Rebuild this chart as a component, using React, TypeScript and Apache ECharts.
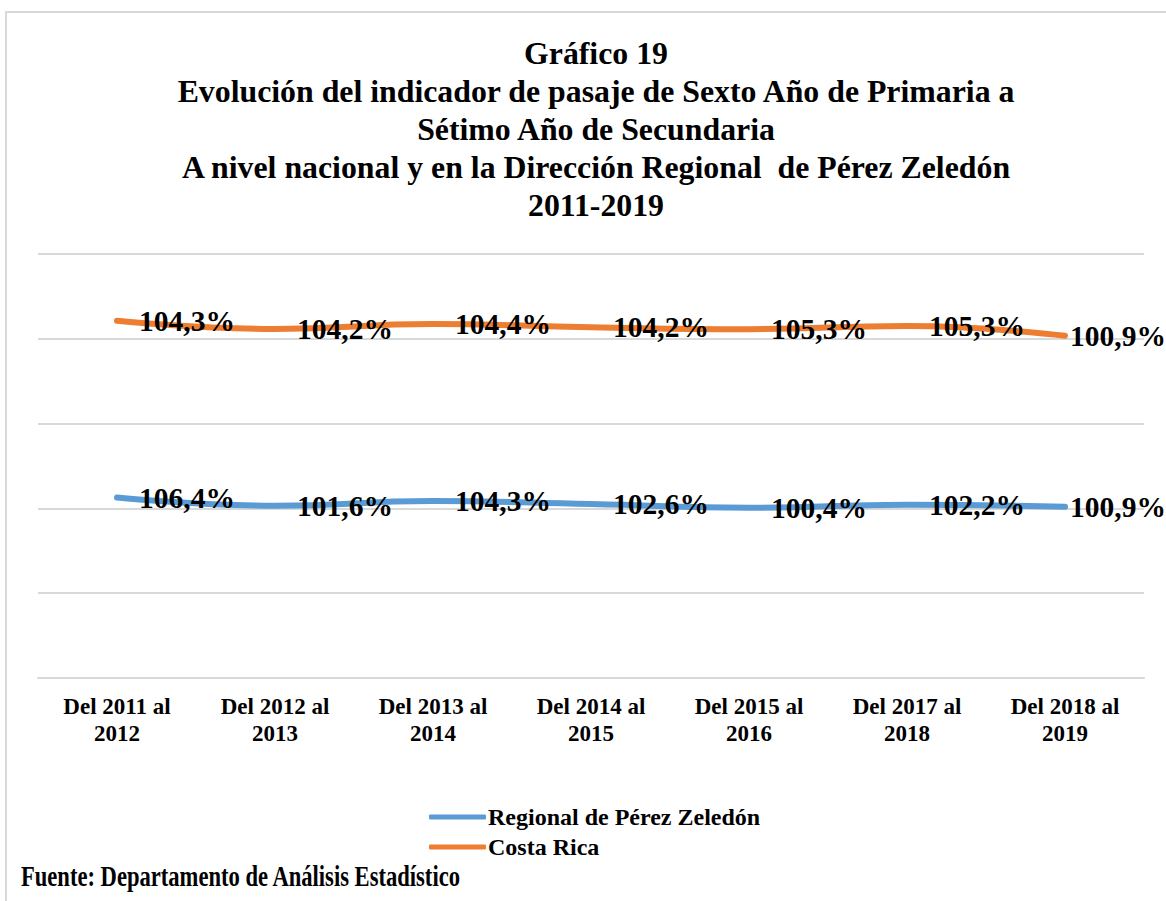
import React, { useEffect, useRef } from "react";
import * as echarts from "echarts";

const categories = [
  "Del 2011 al\n2012",
  "Del 2012 al\n2013",
  "Del 2013 al\n2014",
  "Del 2014 al\n2015",
  "Del 2015 al\n2016",
  "Del 2017 al\n2018",
  "Del 2018 al\n2019",
];
const regionalValues = [106.4, 101.6, 104.3, 102.6, 100.4, 102.2, 100.9];
const costaRicaValues = [104.3, 104.2, 104.4, 104.2, 105.3, 105.3, 100.9];
const seriesNames = ["Regional de Pérez Zeledón", "Costa Rica"];
const titleLines = [
  "Gráfico 19",
  "Evolución del indicador de pasaje de Sexto Año de Primaria a",
  "Sétimo Año de Secundaria",
  "A nivel nacional y en la Dirección Regional  de Pérez Zeledón",
  "2011-2019",
];
const sourceText = "Fuente: Departamento de Análisis Estadístico";

const SERIF = "'Liberation Serif', 'Times New Roman', serif";

export default function App() {
  const ref = useRef<HTMLDivElement>(null);
  useEffect(() => {
    if (!ref.current) return;
    const chart = echarts.init(ref.current, null, { renderer: "svg" });
    const fmt = (p: any) => {
      const v = Array.isArray(p.value) ? p.value[1] : p.value;
      return Number(v).toFixed(1).replace(".", ",") + "%";
    };
    const labelCfg = {
      show: true,
      position: "right",
      distance: 20,
      formatter: fmt,
      fontFamily: SERIF,
      fontWeight: "bold",
      fontSize: 29.5,
      color: "#000",
    };
    const toItems = (vals: number[]) =>
      vals.map((v, i) =>
        i === vals.length - 1 ? { value: v, label: { distance: 3 } } : v
      );
    chart.setOption({
      animation: false,
      backgroundColor: "#fff",
      title: {
        text: titleLines.join("\n"),
        left: 591,
        top: 29,
        textAlign: "center",
        textStyle: {
          fontFamily: SERIF,
          fontWeight: "bold",
          fontSize: 31.8,
          lineHeight: 38,
          color: "#000",
        },
      },
      legend: {
        orient: "vertical",
        left: 429,
        top: 805,
        padding: 0,
        itemWidth: 57,
        itemHeight: 5,
        itemGap: 6,
        icon: "roundRect",
        data: seriesNames,
        textStyle: {
          fontFamily: SERIF,
          fontWeight: "bold",
          fontSize: 24,
          color: "#000",
          padding: [0, 0, 0, -3],
        },
      },
      grid: { left: 38, right: 22, top: 254, bottom: 223, containLabel: false },
      xAxis: {
        type: "category",
        data: categories,
        boundaryGap: true,
        axisLine: { lineStyle: { color: "#d9d9d9", width: 2 } },
        axisTick: { show: false },
        axisLabel: {
          interval: 0,
          margin: 15,
          fontFamily: SERIF,
          fontWeight: "bold",
          fontSize: 23,
          lineHeight: 27,
          color: "#000",
        },
      },
      yAxis: {
        type: "value",
        min: 0,
        max: 250,
        interval: 50,
        axisLabel: { show: false },
        axisLine: { show: false },
        axisTick: { show: false },
        splitLine: { lineStyle: { color: "#d9d9d9", width: 2 } },
      },
      series: [
        {
          name: seriesNames[0],
          type: "line",
          stack: "total",
          data: toItems(regionalValues),
          smooth: true,
          symbol: "circle",
          symbolSize: 4,
          showSymbol: true,
          color: "#5b9bd5",
          itemStyle: { color: "#5b9bd5" },
          lineStyle: { width: 6, cap: "round", color: "#5b9bd5" },
          label: labelCfg,
        },
        {
          name: seriesNames[1],
          type: "line",
          stack: "total",
          data: toItems(costaRicaValues),
          smooth: true,
          symbol: "circle",
          symbolSize: 4,
          showSymbol: true,
          color: "#ed7d31",
          itemStyle: { color: "#ed7d31" },
          lineStyle: { width: 6, cap: "round", color: "#ed7d31" },
          label: labelCfg,
        },
      ],
      graphic: [
        {
          type: "rect",
          shape: { x: 6, y: 12, width: 1200, height: 950 },
          style: { fill: "none", stroke: "#d9d9d9", lineWidth: 2 },
          silent: true,
        },
        {
          type: "text",
          x: 21,
          y: 877,
          scaleX: 0.787,
          style: {
            text: sourceText,
            fontFamily: SERIF,
            fontWeight: "bold",
            fontSize: 28.7,
            fill: "#000",
            verticalAlign: "middle",
          },
        },
      ],
    });
    return () => chart.dispose();
  }, []);
  return (
    <div
      ref={ref}
      style={{ position: "fixed", left: 0, top: 0, width: 1166, height: 901 }}
    />
  );
}
